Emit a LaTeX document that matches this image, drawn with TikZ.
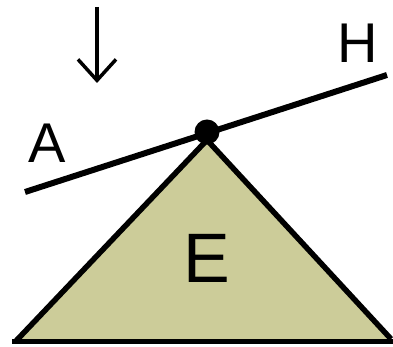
\documentclass[tikz,border=0pt]{standalone}
\usepackage{fontspec}
\setmainfont{Liberation Sans}
\usetikzlibrary{arrows.meta}
\definecolor{wedgeKhaki}{HTML}{CCCC99}

\begin{document}
\begin{tikzpicture}[x=1pt,y=1pt,
    edge/.style={draw=black,line width=5.5pt,line join=miter},
    beam/.style={black,line width=6pt},
    pivot/.style={circle,fill=black,inner sep=0pt,minimum size=25pt},
    lbl/.style={font=\fontsize{56}{56}\selectfont,inner sep=0pt},
    force/.style={-{Straight Barb[length=21pt,width=38pt,line width=3.5pt]},line width=3.5pt}]
  \useasboundingbox (0,0) rectangle (393,347);

  % wedge (fulcrum)
  \coordinate (bl) at (15,5);
  \coordinate (br) at (391,8);
  \coordinate (top) at (207,207);
  \fill[wedgeKhaki] (bl) -- (top) -- (br) -- cycle;
  \draw[edge] (bl) -- (top) -- (br);
  \draw[black,line width=5pt] (12,5) -- (393,5);

  % lever
  \coordinate (a) at (25,155);
  \coordinate (h) at (387,272);
  \draw[beam] (a) -- (h);
  \node[pivot] (p) at (207,215) {};

  % force
  \coordinate (f0) at (97,340);
  \coordinate (f1) at (97,264);
  \draw[force] (f0) -- (f1);

  \node[lbl] (la) at (47,204) {A};
  \node[lbl] (lh) at (358,304) {H};
  \node[lbl,font=\fontsize{70}{70}\selectfont] (le) at (207,89) {E};
\end{tikzpicture}
\end{document}
